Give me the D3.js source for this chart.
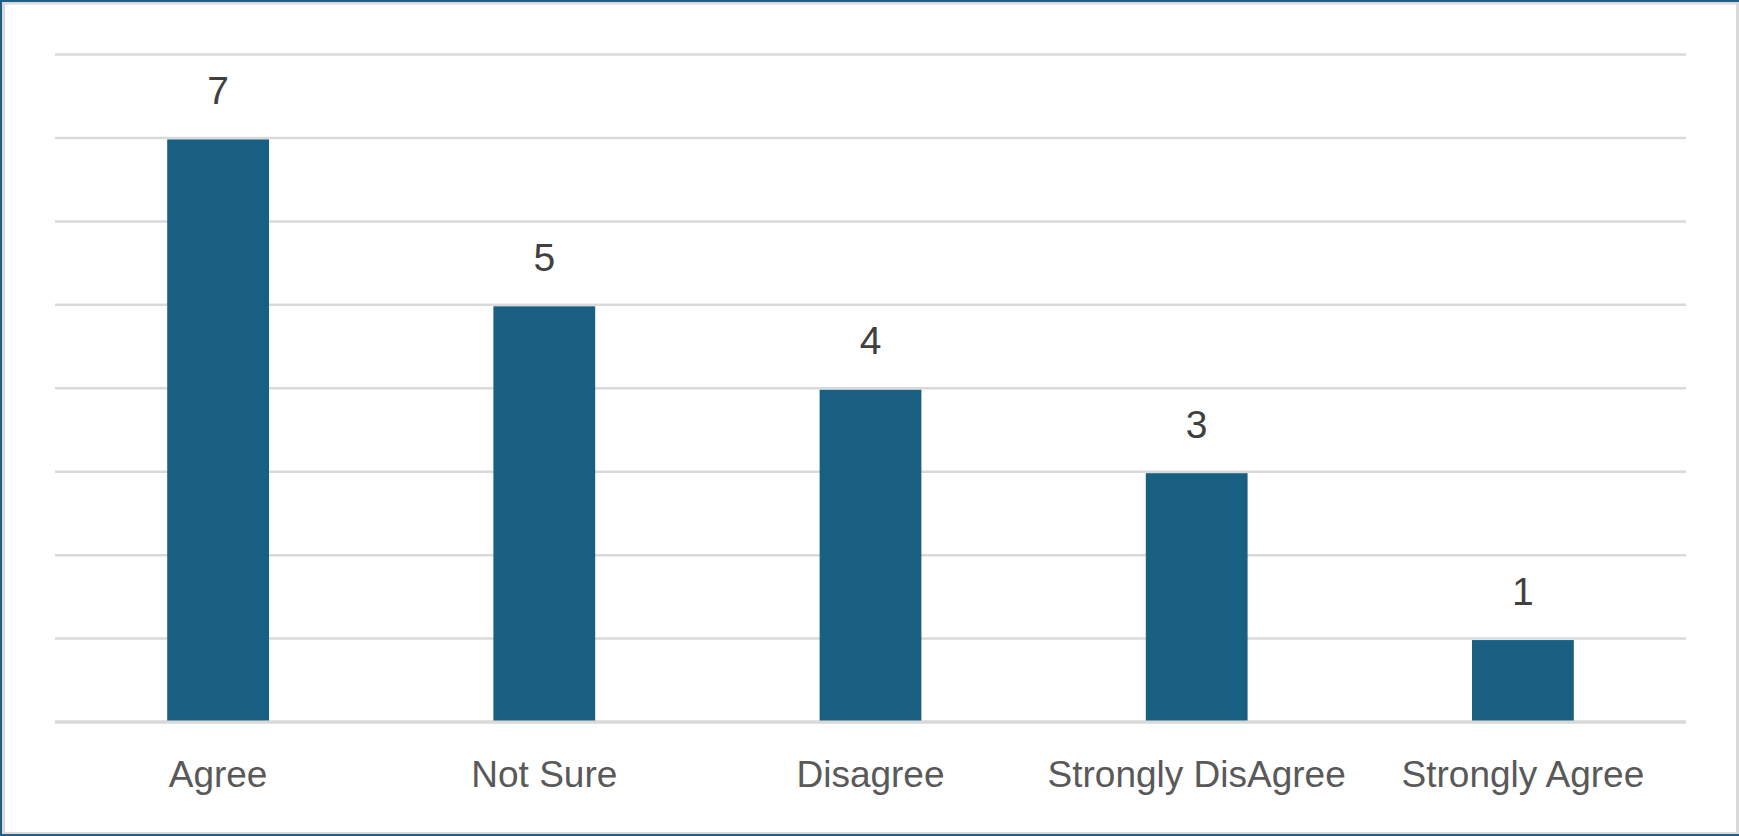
<!DOCTYPE html>
<html>
<head>
<meta charset="utf-8">
<script src="https://cdn.jsdelivr.net/npm/d3@7"></script>
<style>
  body { margin: 0; background: #fff; }
  svg { display: block; }
</style>
</head>
<body>
<svg id="chart" width="1739" height="836"></svg>
<script>
// survey answers, one bar each
const categories = ["Agree", "Not Sure", "Disagree", "Strongly DisAgree", "Strongly Agree"]
const counts = [7, 5, 4, 3, 1]
const gridTicks = [0, 1, 2, 3, 4, 5, 6, 7, 8]

const svg = d3.select("#chart"),
    width = +svg.attr("width"),
    height = +svg.attr("height")

const barColour = "#185f82",
    gridColour = "#d9d9d9"

// plot area edges
// note: "top" is taken by window.top, so these get a prefix
const plotLeft = 55, plotRight = 1686, plotTop = 54.5, plotBottom = 722

const x = d3.scaleBand()
    .domain(categories)
    .range([plotLeft, plotRight])
    .paddingInner(0.688)
    .paddingOuter(0.344)

const y = d3.scaleLinear()
    .domain([0, 8])
    .range([plotBottom, plotTop])

// white background + frame
svg.append("rect").attr("width", width).attr("height", height).attr("fill", "#fff")
svg.append("rect")
    .attr("x", 3.5).attr("y", 3).attr("width", width - 5).attr("height", height - 5.5)
    .attr("fill", "none").attr("stroke", gridColour).attr("stroke-width", 3)
svg.append("path")
    .attr("d", `M${width},1 H1 V${height - 1} H${width}`)
    .attr("fill", "none").attr("stroke", "#1f5f85").attr("stroke-width", 2)

// horizontal grid lines
svg.append("g")
    .selectAll("line")
    .data(gridTicks)
    .enter()
    .append("line")
    .attr("x1", plotLeft)
    .attr("x2", plotRight)
    .attr("y1", d => y(d))
    .attr("y2", d => y(d))
    .attr("stroke", gridColour)
    .attr("stroke-width", d => d === 0 ? 3.5 : 2.5)

// bars sit just under the grid line they reach
svg.append("g")
    .selectAll("rect")
    .data(counts)
    .enter()
    .append("rect")
    .attr("x", (d, i) => x(categories[i]))
    .attr("width", x.bandwidth())
    .attr("y", d => y(d) + 1.5)
    .attr("height", d => y(0) - y(d) - 3)
    .attr("fill", barColour)

// value labels
svg.append("g")
    .selectAll("text")
    .data(counts)
    .enter()
    .append("text")
    .attr("x", (d, i) => x(categories[i]) + x.bandwidth() / 2)
    .attr("y", d => y(d) - 34)
    .attr("text-anchor", "middle")
    .attr("font-family", "'Liberation Sans', Arial, sans-serif")
    .attr("font-size", 39)
    .attr("fill", "#404040")
    .text(d => d)

// category labels
svg.append("g")
    .selectAll("text")
    .data(categories)
    .enter()
    .append("text")
    .attr("x", d => x(d) + x.bandwidth() / 2)
    .attr("y", 787)
    .attr("text-anchor", "middle")
    .attr("font-family", "'Liberation Sans', Arial, sans-serif")
    .attr("font-size", 37)
    .attr("fill", "#595959")
    .text(d => d)
</script>
</body>
</html>
